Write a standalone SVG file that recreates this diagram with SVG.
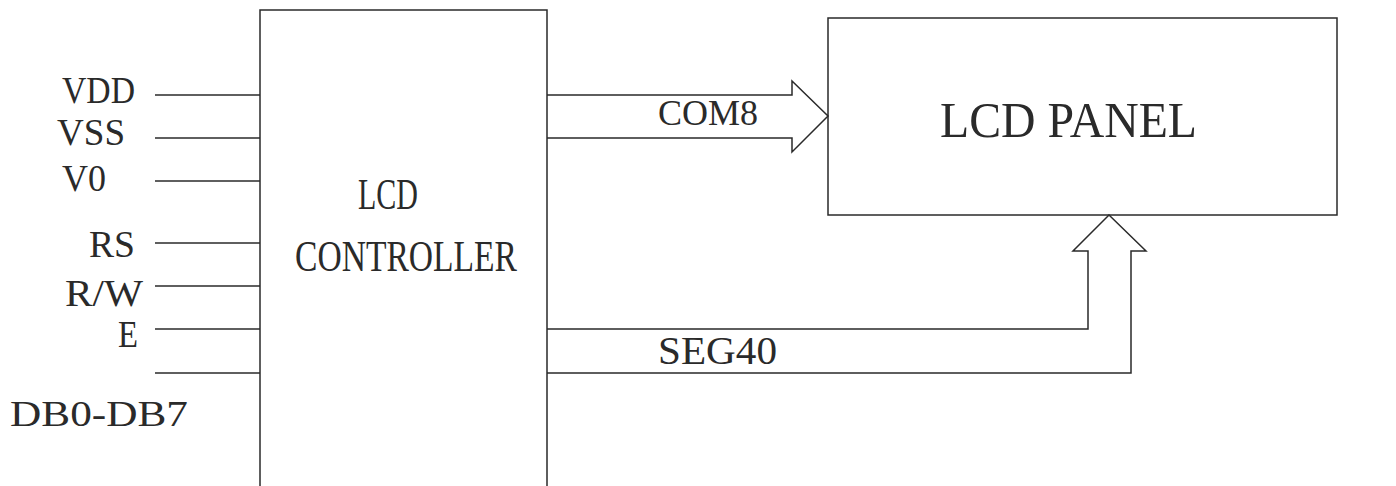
<svg xmlns="http://www.w3.org/2000/svg" width="1396" height="486" viewBox="0 0 1396 486">
<style>
.ln{fill:none;stroke:#2a2a2a;stroke-width:1.5;stroke-linejoin:miter}
text{font-family:"Liberation Serif","DejaVu Serif",serif;fill:#2a2a2a}
</style>
<rect width="1396" height="486" fill="#fff"/>
<g id="controller">
<path class="ln" d="M260,486 L260,10 L547,10 L547,486"/>
<text x="358" y="209" font-size="44" textLength="60" lengthAdjust="spacingAndGlyphs">LCD</text>
<text x="295" y="271" font-size="44" textLength="222" lengthAdjust="spacingAndGlyphs">CONTROLLER</text>
</g>
<g id="panel">
<rect class="ln" x="828" y="18" width="509" height="197"/>
<text x="940" y="137" font-size="50" textLength="257" lengthAdjust="spacingAndGlyphs">LCD PANEL</text>
</g>
<g id="pins">
<text x="62" y="103" font-size="38" textLength="73" lengthAdjust="spacingAndGlyphs">VDD</text>
<text x="57" y="145" font-size="38" textLength="68" lengthAdjust="spacingAndGlyphs">VSS</text>
<text x="62" y="191" font-size="38" textLength="44" lengthAdjust="spacingAndGlyphs">V0</text>
<text x="89" y="257" font-size="38" textLength="46" lengthAdjust="spacingAndGlyphs">RS</text>
<text x="65" y="306" font-size="38" textLength="78" lengthAdjust="spacingAndGlyphs">R/W</text>
<text x="118" y="347" font-size="38" textLength="20" lengthAdjust="spacingAndGlyphs">E</text>
<text x="10" y="426" font-size="36" textLength="178" lengthAdjust="spacingAndGlyphs">DB0-DB7</text>
</g>
<g id="connectors">
<line class="ln" x1="155" y1="95" x2="260" y2="95"/>
<line class="ln" x1="155" y1="138" x2="260" y2="138"/>
<line class="ln" x1="155" y1="181" x2="260" y2="181"/>
<line class="ln" x1="155" y1="243" x2="260" y2="243"/>
<line class="ln" x1="155" y1="286" x2="260" y2="286"/>
<line class="ln" x1="155" y1="329" x2="260" y2="329"/>
<line class="ln" x1="155" y1="373" x2="260" y2="373"/>
<path class="ln" d="M547,95 L792,95 L792,81 L828,116 L792,152 L792,138 L547,138"/>
<path class="ln" d="M547,329 L1088,329 L1088,251 L1073,251 L1109,215 L1146,251 L1131,251 L1131,373 L547,373"/>
<text x="658" y="125" font-size="35" textLength="100" lengthAdjust="spacingAndGlyphs">COM8</text>
<text x="658" y="364" font-size="39" textLength="119" lengthAdjust="spacingAndGlyphs">SEG40</text>
</g>
</svg>
